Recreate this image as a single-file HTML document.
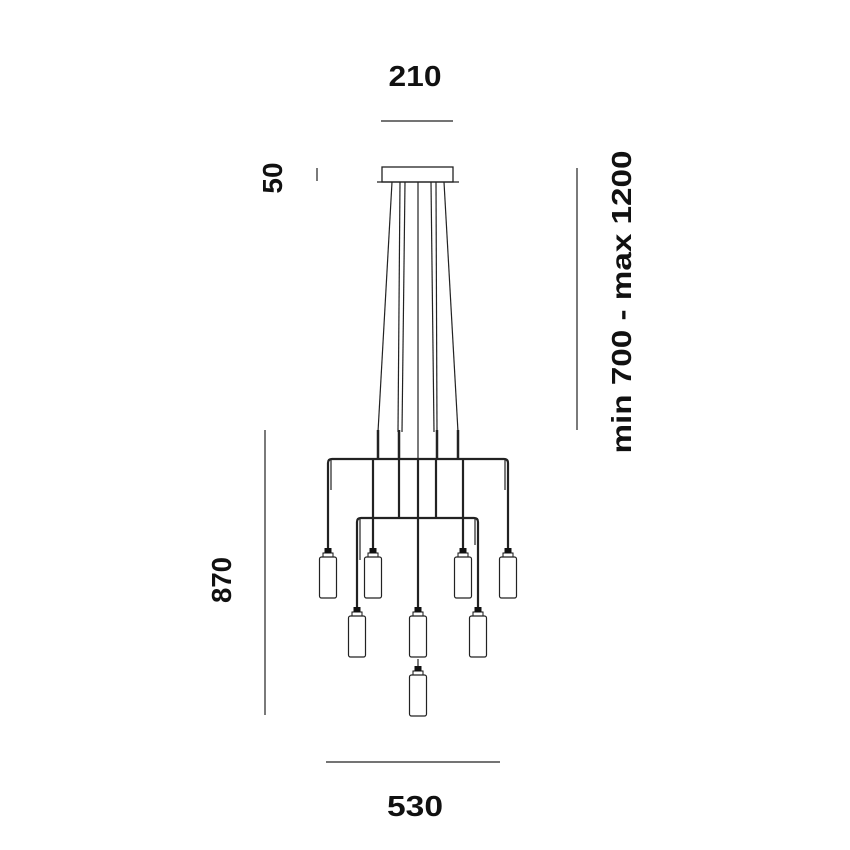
<!DOCTYPE html>
<html><head><style>html,body{margin:0;padding:0;background:#fff;}svg{display:block}</style></head>
<body>
<svg width="850" height="850" viewBox="0 0 850 850" xmlns="http://www.w3.org/2000/svg">
<defs>
<g id="p">
<rect x="-3.5" y="0" width="7" height="6" fill="#111"/>
<rect x="-5" y="5" width="10" height="4" fill="#fff" stroke="#111" stroke-width="1"/>
<rect x="-8.5" y="9" width="17" height="41" rx="2" fill="#fff" stroke="#222" stroke-width="1.2"/>
</g>
</defs>
<g font-family="Liberation Sans, sans-serif" font-weight="bold" fill="#111">
<text x="415" y="86" font-size="29" text-anchor="middle" textLength="53" lengthAdjust="spacingAndGlyphs">210</text>
<text x="415" y="816" font-size="29" text-anchor="middle" textLength="56" lengthAdjust="spacingAndGlyphs">530</text>
<text transform="translate(282,178) rotate(-90)" font-size="28" text-anchor="middle">50</text>
<text transform="translate(231,580) rotate(-90)" font-size="28" text-anchor="middle" textLength="46" lengthAdjust="spacingAndGlyphs">870</text>
<text transform="translate(631,302) rotate(-90)" font-size="28" text-anchor="middle" textLength="303" lengthAdjust="spacingAndGlyphs">min 700 - max 1200</text>
</g>
<g stroke="#222" stroke-width="1.2" fill="none">
<line x1="381" y1="121" x2="453" y2="121"/>
<line x1="326" y1="762" x2="500" y2="762"/>
<line x1="317" y1="168" x2="317" y2="181"/>
<line x1="577" y1="168" x2="577" y2="430"/>
<line x1="265" y1="430" x2="265" y2="715"/>
</g>
<g stroke="#222" fill="none">
<rect x="382" y="167" width="71" height="15" stroke-width="1.3" fill="#fff"/>
<line x1="377" y1="182" x2="459" y2="182" stroke-width="1.3"/>
<g stroke-width="1.2">
<line x1="392" y1="182" x2="378" y2="432"/>
<line x1="400" y1="182" x2="398" y2="432"/>
<line x1="405" y1="182" x2="402" y2="432"/>
<line x1="418" y1="182" x2="418" y2="460"/>
<line x1="431" y1="182" x2="434" y2="432"/>
<line x1="436" y1="182" x2="437" y2="432"/>
<line x1="444" y1="182" x2="458" y2="432"/>
</g>
<g stroke-width="2.5">
<line x1="378" y1="430" x2="378" y2="458"/>
<line x1="399" y1="430" x2="399" y2="458"/>
<line x1="437" y1="430" x2="437" y2="458"/>
<line x1="458" y1="430" x2="458" y2="458"/>
</g>
<g stroke-width="2.2">
<path d="M328 548 V463 Q328 459 332 459 H504 Q508 459 508 463 V548"/>
<path d="M357 607 V522 Q357 518 361 518 H474 Q478 518 478 522 V607"/>
<line x1="373" y1="459" x2="373" y2="548"/>
<line x1="463" y1="459" x2="463" y2="548"/>
<line x1="399" y1="459" x2="399" y2="518"/>
<line x1="436" y1="459" x2="436" y2="518"/>
<line x1="418" y1="459" x2="418" y2="607"/>
<line x1="418" y1="659" x2="418" y2="666" stroke-width="1.2"/>
</g>
<g stroke-width="1.2">
<line x1="331" y1="459" x2="331" y2="490"/>
<line x1="505" y1="459" x2="505" y2="490"/>
<line x1="360" y1="518" x2="360" y2="560"/>
<line x1="475" y1="518" x2="475" y2="545"/>
</g>
</g>
<use href="#p" x="328" y="548"/>
<use href="#p" x="373" y="548"/>
<use href="#p" x="463" y="548"/>
<use href="#p" x="508" y="548"/>
<use href="#p" x="357" y="607"/>
<use href="#p" x="418" y="607"/>
<use href="#p" x="478" y="607"/>
<use href="#p" x="418" y="666"/>
</svg>
</body></html>
